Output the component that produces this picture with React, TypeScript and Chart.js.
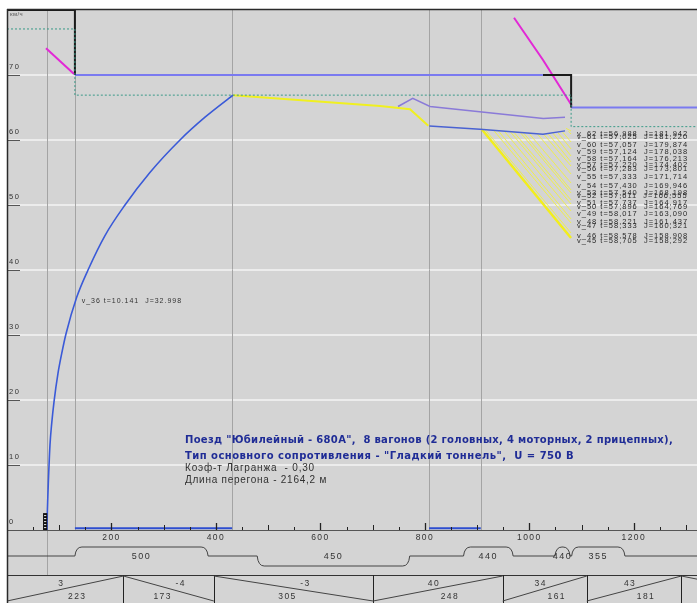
import React, { useEffect, useRef } from "react";
import { Chart, registerables } from "chart.js";

Chart.register(...registerables);

const W = 697;
const H = 603;
const GRAY = "#d4d4d4";

// scale ranges (metres along the run, km/h)
const X_MIN = 0;
const X_MAX = 1321;
const Y_MIN = 0;
const Y_MAX = 80.15;

const yTicks = [0, 10, 20, 30, 40, 50, 60, 70];
const xTickLabels = [200, 400, 600, 800, 1000, 1200];
const xMinorStep = 50;

// traction run
const tractionX = [76.6, 77.2, 78.1, 79.1, 82.3, 85.6, 90.1, 97.6, 104.6, 113.0, 133.4, 155.1, 187.6, 225.9, 273.6, 331.2, 379.1, 432.7];
const tractionV = [0, 2.6, 4.9, 7.2, 13.1, 16.4, 19.8, 24.1, 27.1, 30.2, 35.8, 40.0, 45.3, 50.0, 55.0, 60.0, 63.5, 66.9];

// coasting (yellow)
const coastX = [432.7, 714.1, 771.6, 806.6];
const coastV = [66.9, 65.23, 64.72, 62.2];

// alternative branch (lilac)
const altX = [748.6, 776.8, 809.9, 1026.8, 1068.3];
const altV = [65.15, 66.4, 65.15, 63.3, 63.5];

// lower run (blue)
const runX = [808.5, 905.6, 1026.2, 1068.3];
const runV = [62.15, 61.65, 60.9, 61.4];

// speed limit
const limitAX = [0, 130, 130];
const limitAV = [80, 80, 70];
const limitBX = [130, 1026];
const limitBV = [70, 70];
const limitCX = [1026, 1080, 1080];
const limitCV = [70, 70, 65];
const limitDX = [1080, 1321];
const limitDV = [65, 65];

// dotted allowance line
const allowX = [0, 130, 130, 1080, 1080, 1321];
const allowV = [77.08, 77.08, 66.9, 66.9, 62.05, 62.05];

// braking curves (magenta)
const brakeLeftX = [74.7, 128.3];
const brakeLeftV = [74.1, 70.15];
const brakeRightX = [970.7, 1026.2, 1081.2];
const brakeRightV = [78.8, 72.3, 65.3];

// traction zones along the axis
const zoneAX = [130, 431];
const zoneBX = [808, 907];
const zoneV = 0.26;

// vertical markers
const markerX = [76.6, 130, 431, 808, 907.5];
const stationX = [69, 77];
const stationV = [0, 2.6];

// braking fan (v_45 ... v_62)
const fanNames = ["v_45", "v_46", "v_47", "v_48", "v_49", "v_50", "v_51", "v_52", "v_53", "v_54", "v_55", "v_56", "v_57", "v_58", "v_59", "v_60", "v_61", "v_62"];
const fanT = ["58,705", "58,578", "58,333", "58,221", "58,017", "57,896", "57,737", "57,611", "57,540", "57,430", "57,333", "57,283", "57,220", "57,164", "57,124", "57,057", "57,025", "56,988"];
const fanJ = ["158,292", "158,908", "160,321", "161,437", "163,090", "164,769", "164,917", "166,555", "168,198", "169,946", "171,714", "173,801", "174,402", "176,213", "178,038", "179,874", "181,220", "181,942"];
const fanStartX = [908.9, 915.2, 931.5, 940.1, 951.6, 963.1, 969.8, 982.2, 988.0, 998.5, 1014.8, 1027.2, 1035.8, 1044.8, 1054.4, 1064.0, 1075.0, 1070.3];
const fanStartV = [61.65, 61.6, 61.5, 61.45, 61.4, 61.3, 61.27, 61.2, 61.17, 61.1, 61.0, 60.9, 61.0, 61.1, 61.15, 61.2, 61.35, 61.8];
const fanEndX = 1079.8;
const fanEndV = [44.92, 45.69, 47.23, 47.85, 49.08, 50.15, 50.77, 51.85, 52.31, 53.38, 54.77, 56.0, 56.62, 57.54, 58.62, 59.69, 60.92, 61.38];

// annotation on the traction curve
const noteX = 133.4;
const noteV = 35.8;
const noteText = "v_36 t=10.141  J=32.998";

// track plan: curves
const curveStart = [130, 479, 874, 1049, 1081];
const curveEnd = [385, 771, 969, 1078, 1183];
const curveRadius = [500, 450, 440, 440, 355];
const curveDir = [1, -1, 1, 1, 1];

// track profile: grades
const gradeBounds = [0, 223, 396, 701, 949, 1110, 1291];
const gradeValues = [3, -4, -3, 40, 34, 43];
const gradeLengths = [223, 173, 305, 248, 161, 181];

// info text
const infoBold = [
  'Поезд "Юбилейный - 680А",  8 вагонов (2 головных, 4 моторных, 2 прицепных),',
  'Тип основного сопротивления - "Гладкий тоннель",  U = 750 В',
];
const infoPlain = ["Коэф-т Лагранжа  - 0,30", "Длина перегона - 2164,2 м"];

const pts = (xs: number[], vs: number[]) => xs.map((x, i) => ({ x, y: vs[i] }));

function ln(ctx: CanvasRenderingContext2D, x1: number, y1: number, x2: number, y2: number) {
  ctx.beginPath();
  ctx.moveTo(x1, y1);
  ctx.lineTo(x2, y2);
  ctx.stroke();
}

function txt(ctx: CanvasRenderingContext2D, s: string, x: number, y: number, font: string, color: string, ls: number, align: CanvasTextAlign = "left") {
  ctx.font = font;
  (ctx as any).letterSpacing = ls + "px";
  ctx.fillStyle = color;
  ctx.textAlign = align;
  ctx.textBaseline = "middle";
  ctx.fillText(s, x, y);
  (ctx as any).letterSpacing = "0px";
}

function fitText(ctx: CanvasRenderingContext2D, s: string, x: number, y: number, font: string, color: string, target: number) {
  ctx.font = font;
  (ctx as any).letterSpacing = "0px";
  const w0 = ctx.measureText(s).width;
  const ls = (target - w0) / s.length;
  txt(ctx, s, x, y, font, color, ls);
}

const backPlugin = {
  id: "backPlugin",
  beforeDraw(chart: any) {
    const { ctx, chartArea: a, scales } = chart;
    const x = scales.x;
    const y = scales.y;
    ctx.save();
    ctx.fillStyle = "#ffffff";
    ctx.fillRect(0, 0, W, H);
    ctx.fillStyle = GRAY;
    ctx.fillRect(a.left, a.top, W - a.left, H - a.top);
    ctx.strokeStyle = "#f4f4f4";
    ctx.lineWidth = 1.5;
    for (const v of yTicks) {
      if (v === 0) continue;
      const py = Math.round(y.getPixelForValue(v));
      ln(ctx, a.left, py, a.right, py);
    }
    ctx.strokeStyle = "#a4a4a4";
    ctx.lineWidth = 1;
    markerX.forEach((mx, i) => {
      const px = Math.round(x.getPixelForValue(mx)) + 0.5;
      ln(ctx, px, a.top, px, i === 0 ? a.bottom + 45 : a.bottom);
    });
    ctx.restore();
  },
  afterDatasetsDraw(chart: any) {
    const { ctx, chartArea: a, scales } = chart;
    const x = scales.x;
    const y = scales.y;
    ctx.save();
    // station marker
    {
      const x0 = x.getPixelForValue(stationX[0]);
      const x1 = x.getPixelForValue(stationX[1]);
      const y0 = y.getPixelForValue(stationV[1]);
      const y1 = y.getPixelForValue(stationV[0]);
      ctx.fillStyle = "#111";
      ctx.fillRect(x0, y0, x1 - x0, y1 - y0);
      ctx.strokeStyle = "#e8e8e8";
      ctx.lineWidth = 1;
      for (let yy = y0 + 2.5; yy < y1 - 1; yy += 3) ln(ctx, x0 + 1, yy, x1 - 1, yy);
    }
    // y labels + small ticks
    ctx.strokeStyle = "#555";
    ctx.lineWidth = 1;
    for (const v of yTicks) {
      const py = Math.round(y.getPixelForValue(v));
      if (v !== 0) ln(ctx, a.left, py + 0.5, a.left + 13, py + 0.5);
      txt(ctx, String(v), a.left + 2, py - 8, "7.5px 'Liberation Sans', Arial", "#333", 1.6);
    }
    txt(ctx, "км/ч", a.left + 3, a.top + 5, "6px 'Liberation Sans', Arial", "#555", 0.4);

    // x axis
    const base = a.bottom;
    ctx.strokeStyle = "#555";
    ctx.lineWidth = 1;
    ln(ctx, a.left, base + 0.5, W, base + 0.5);
    for (let v = xMinorStep; v <= X_MAX; v += xMinorStep) {
      const px = Math.round(x.getPixelForValue(v)) + 0.5;
      const len = v % 200 === 0 ? 7 : v % 100 === 0 ? 5 : 3;
      ctx.strokeStyle = "#222";
      ctx.lineWidth = v % 200 === 0 ? 1.3 : 1;
      ln(ctx, px, base, px, base - len);
    }
    for (const v of xTickLabels) {
      txt(ctx, String(v), x.getPixelForValue(v), base + 8, "8.5px 'Liberation Sans', Arial", "#333", 1.4, "center");
    }

    // track plan
    const pBase = base + 26;
    const pUp = base + 17;
    const pDown = base + 36;
    ctx.strokeStyle = "#444";
    ctx.lineWidth = 1;
    ctx.beginPath();
    ctx.moveTo(a.left, pBase);
    curveStart.forEach((cs, i) => {
      const sx = x.getPixelForValue(cs);
      const ex = x.getPixelForValue(curveEnd[i]);
      const lvl = curveDir[i] > 0 ? pUp : pDown;
      const r = Math.min(7, (ex - sx) / 2);
      ctx.lineTo(sx, pBase);
      ctx.quadraticCurveTo(sx + 1, lvl, sx + r, lvl);
      ctx.lineTo(ex - r, lvl);
      ctx.quadraticCurveTo(ex - 1, lvl, ex, pBase);
    });
    ctx.lineTo(W, pBase);
    ctx.stroke();
    curveStart.forEach((cs, i) => {
      const cx = (x.getPixelForValue(cs) + x.getPixelForValue(curveEnd[i])) / 2;
      txt(ctx, String(curveRadius[i]), cx, pBase + 1, "9px 'Liberation Sans', Arial", "#333", 1.5, "center");
    });

    // grade strip
    const gTop = base + 45;
    const gBot = H - 2;
    ctx.strokeStyle = "#333";
    ctx.lineWidth = 1;
    ln(ctx, a.left, gTop + 0.5, W, gTop + 0.5);
    for (let i = 0; i < gradeValues.length; i++) {
      const x0 = x.getPixelForValue(gradeBounds[i]);
      const x1 = x.getPixelForValue(gradeBounds[i + 1]);
      ctx.strokeStyle = "#222";
      ln(ctx, Math.round(x1) + 0.5, gTop, Math.round(x1) + 0.5, H);
      ctx.strokeStyle = "#444";
      const neg = gradeValues[i] < 0;
      if (neg) ln(ctx, x0, gTop + 1, x1, gBot);
      else ln(ctx, x0, gBot, x1, gTop + 1);
      const cx = (x0 + x1) / 2;
      txt(ctx, String(gradeValues[i]), cx + (neg ? 12 : -4), gTop + 9, "8.5px 'Liberation Sans', Arial", "#333", 1.4, "center");
      txt(ctx, String(gradeLengths[i]), cx + (neg ? -6 : 12), gTop + 22, "8.5px 'Liberation Sans', Arial", "#333", 1.4, "center");
    }
    {
      const xl = x.getPixelForValue(gradeBounds[gradeBounds.length - 1]);
      ctx.strokeStyle = "#444";
      ln(ctx, xl, gTop + 1, W, gTop + 1 + (W - xl) * 0.2);
    }

    // border
    ctx.strokeStyle = "#2a2a2a";
    ctx.lineWidth = 1.5;
    ln(ctx, a.left, a.top + 0.5, W, a.top + 0.5);
    ln(ctx, a.left + 0.5, a.top, a.left + 0.5, H);

    // annotation
    txt(ctx, noteText, x.getPixelForValue(noteX) + 5, y.getPixelForValue(noteV) + 4, "7px 'Liberation Sans', Arial", "#333", 1.0);

    // fan labels
    const lx = x.getPixelForValue(fanEndX) + 6;
    fanNames.forEach((n, i) => {
      const s = n + " t=" + fanT[i] + "  J=" + fanJ[i];
      txt(ctx, s, lx, y.getPixelForValue(fanEndV[i]) + 3, "7.5px 'Liberation Sans', Arial", "#2a2a2a", 1.0);
    });

    // info block
    fitText(ctx, infoBold[0], 185, 440, "bold 10px 'DejaVu Sans'", "#1f2c96", 488);
    fitText(ctx, infoBold[1], 185, 456, "bold 10px 'DejaVu Sans'", "#1f2c96", 389);
    fitText(ctx, infoPlain[0], 185, 468, "10px 'Liberation Sans', Arial", "#303030", 130);
    fitText(ctx, infoPlain[1], 185, 480, "10px 'Liberation Sans', Arial", "#303030", 142);
    ctx.restore();
  },
};

function ds(data: any[], color: string, width: number, extra: any = {}) {
  return {
    data,
    borderColor: color,
    backgroundColor: color,
    borderWidth: width,
    pointRadius: 0,
    tension: 0,
    fill: false,
    ...extra,
  };
}

export default function App() {
  const ref = useRef<HTMLCanvasElement>(null);
  useEffect(() => {
    const fan = fanStartX.map((sx, i) =>
      ds(
        [
          { x: sx, y: fanStartV[i] },
          { x: fanEndX, y: fanEndV[i] },
        ],
        i === 0 ? "#f2ee1c" : "#eeee50",
        i === 0 ? 2.5 : 1
      )
    );
    const chart = new Chart(ref.current as HTMLCanvasElement, {
      type: "line",
      data: {
        datasets: [
          ds(pts(allowX, allowV), "#3a9a88", 1, { borderDash: [2, 2] }),
          ds(pts(limitAX, limitAV), "#1a1a1a", 2),
          ds(pts(limitBX, limitBV), "#7a7af0", 2),
          ds(pts(limitCX, limitCV), "#1a1a1a", 2),
          ds(pts(limitDX, limitDV), "#7a7af0", 2),
          ds(pts(brakeLeftX, brakeLeftV), "#e228d6", 2),
          ds(pts(brakeRightX, brakeRightV), "#e228d6", 2),
          ds(pts(tractionX, tractionV), "#3a5ad8", 1.6, { cubicInterpolationMode: "monotone" }),
          ds(pts(coastX, coastV), "#f0f020", 2),
          ds(pts(altX, altV), "#8a7ad8", 1.5),
          ds(pts(runX, runV), "#4a62d2", 1.5),
          ...fan,
          ds(pts(zoneAX, [zoneV, zoneV]), "#2e4ed0", 2),
          ds(pts(zoneBX, [zoneV, zoneV]), "#2e4ed0", 2),
        ] as any,
      },
      options: {
        responsive: false,
        maintainAspectRatio: false,
        animation: false,
        devicePixelRatio: 1,
        parsing: false as any,
        layout: { padding: { left: 7, top: 9, right: 0, bottom: H - 530 } },
        scales: {
          x: { type: "linear", min: X_MIN, max: X_MAX, display: false },
          y: { type: "linear", min: Y_MIN, max: Y_MAX, display: false },
        },
        plugins: { legend: { display: false }, tooltip: { enabled: false } },
        events: [],
      },
      plugins: [backPlugin],
    });
    return () => chart.destroy();
  }, []);
  return (
    <div style={{ position: "fixed", left: 0, top: 0, width: W, height: H }}>
      <canvas ref={ref} width={W} height={H} style={{ display: "block" }} />
    </div>
  );
}
